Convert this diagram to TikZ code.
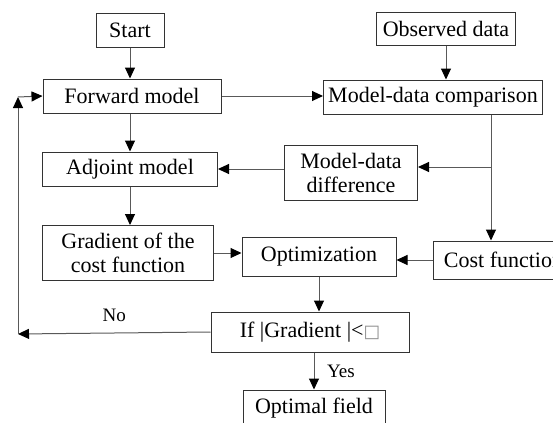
\documentclass[tikz,border=0pt]{standalone}
\usepackage{fontspec}
\setmainfont{Liberation Serif}
\newfontfamily\symfont{DejaVu Sans}
\usetikzlibrary{arrows.meta}

\tikzset{
  box/.style={draw=black!80, line width=0.5pt, inner sep=1pt, align=center, font=\fontsize{11}{12}\selectfont},
  flow/.style={draw=black!65, line width=0.5pt, -{Triangle[length=5.5pt,width=5pt,color=black]}},
  seg/.style={draw=black!65, line width=0.5pt},
  lbl/.style={font=\fontsize{9.5}{10}\selectfont}
}

\begin{document}
\begin{tikzpicture}[x=0.5pt, y=-0.5pt]
  \clip (0,0) rectangle (553,423);
  % boxes
  \node[box, minimum width=34pt, minimum height=17pt] (start) at (130,30) {Start};
  \node[box, minimum width=89pt, minimum height=17pt] (fwd) at (132,96) {Forward model};
  \node[box, minimum width=87.5pt, minimum height=17pt] (adj) at (130,169) {Adjoint model};
  \node[box, minimum width=69.5pt, minimum height=16.5pt] (obs) at (446,29) {Observed data};
  \node[box, minimum width=109.5pt, minimum height=17pt] (cmp) at (433,97) {Model-data comparison};
  \node[box, minimum width=66.5pt, minimum height=27.5pt] (mdiff) at (351,173) {Model-data\\difference};
  \node[box, minimum width=85.5pt, minimum height=27.5pt] (grad) at (128,253) {Gradient of the\\cost function};
  \node[box, minimum width=77pt, minimum height=19.5pt] (opt) at (319,257) {Optimization};
  \node[box, minimum width=70pt, minimum height=19pt, anchor=west] (cost) at (433,260) {Cost function};
  \node[box, minimum width=99pt, minimum height=20pt] (iff) at (310,332) {If |Gradient |<{\symfont\color{black!45}\scalebox{0.8}{□}}};
  \node[box, minimum width=71pt, minimum height=18pt] (optf) at (314,408) {Optimal field};
  % turning points
  \coordinate (jn) at (491,167);
  \coordinate (lp1) at (18,334);
  \coordinate (lp2) at (18,97);
  % connectors
  \draw[flow] (start.south) -- (start.south |- fwd.north);
  \draw[flow] (fwd.east) -- (cmp.west |- fwd.east);
  \draw[flow] (obs.south) -- (obs.south |- cmp.north);
  \draw[seg] (cmp.south -| jn) -- (jn);
  \draw[flow] (jn) -- (cost.north -| jn);
  \draw[flow] (jn) -- (mdiff.east |- jn);
  \draw[flow] (mdiff.west |- adj.east) -- (adj.east);
  \draw[flow] (fwd.south -| adj.north) -- (adj.north);
  \draw[flow] (adj.south) -- (adj.south |- grad.north);
  \draw[flow] (grad.east) -- (opt.west |- grad.east);
  \draw[flow] (cost.west) -- (opt.east |- cost.west);
  \draw[flow] (opt.south) -- (opt.south |- iff.north);
  \draw[flow] (iff.south -| optf.north) -- (optf.north) node[midway, right=3pt, lbl] {Yes};
  \draw[flow] (iff.west) -- (lp1) node[midway, above=2pt, lbl] {No};
  \draw[flow] (lp1) -- (lp2);
  \draw[flow] (lp2) -- (fwd.west);
\end{tikzpicture}
\end{document}
